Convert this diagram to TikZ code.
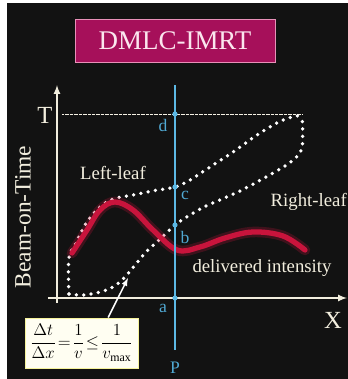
\documentclass[tikz,border=0pt]{standalone}
\usepackage{amsmath}
\usepackage{amssymb}
\usepackage{xcolor}
\usepackage{fontspec}
\setmainfont{Liberation Serif}
\usepackage{tikz}
\usetikzlibrary{calc}

\definecolor{bgdark}{RGB}{18,18,18}
\definecolor{axiscream}{RGB}{242,238,222}
\definecolor{pblue}{RGB}{92,184,228}
\definecolor{labblue}{RGB}{80,168,210}
\definecolor{intred}{RGB}{200,20,60}
\definecolor{titlefill}{RGB}{166,16,90}
\definecolor{titleedge}{RGB}{232,144,184}
\definecolor{titletext}{RGB}{251,230,238}

\tikzset{
	titlebox/.style={draw=titleedge, line width=0.8pt, fill=titlefill, text=titletext,
		minimum width=6cm, minimum height=1.29cm, font=\fontsize{23}{26}\selectfont},
	axisline/.style={axiscream, line width=1.6pt, -latex},
	pline/.style={pblue, line width=1.6pt},
	pdot/.style={fill=pblue},
	letter/.style={text=labblue, font=\fontsize{15}{17}\selectfont},
	tline/.style={axiscream!80, line width=0.6pt, dash pattern=on 0.5pt off 0.6pt},
	leaf/.style={white, line width=3.2pt, line cap=round, dash pattern=on 0pt off 6.3pt},
	caption/.style={text=axiscream, font=\fontsize{16}{18}\selectfont},
	formulabox/.style={draw=axiscream!70!yellow, line width=0.8pt, fill=white!95!yellow,
		minimum width=3.39cm, minimum height=1.5cm, inner sep=0pt},
	pointer/.style={white, line width=1.3pt, -latex}
}

\begin{document}
\begin{tikzpicture}[x=0.03cm, y=-0.03cm]
	% frame
	\useasboundingbox (0,0) rectangle (348,379);
	\fill[white] (0,0) rectangle (348,379);
	\fill[bgdark] (7,3) rectangle (348,379);

	% title
	\node[titlebox] (title) at (175,40.5) {DMLC-IMRT};

	% axes
	\coordinate (yfoot) at (57,303);
	\coordinate (ytop) at (57,85);
	\coordinate (xfoot) at (48,298);
	\coordinate (xtip) at (347,298);
	\draw[axisline] (yfoot) -- (ytop);
	\draw[axisline] (xfoot) -- (xtip);
	\node[text=axiscream, font=\fontsize{21}{24}\selectfont] (tlab) at (45,115) {T};
	\node[text=axiscream, font=\fontsize{21}{24}\selectfont] (xlab) at (333,320) {X};
	\node[text=axiscream, font=\fontsize{20}{22}\selectfont, rotate=90] (ylab) at (23,217) {Beam-on-Time};

	% points on P
	\foreach \n/\y in {a/298, b/225, c/187, d/114}{
		\coordinate (\n) at (175,\y);
	}
	\coordinate (tstart) at (62,114);
	\coordinate (tend) at (302,114);
	\draw[tline] (tstart) -- (tend);

	% leaf positions
	\draw[leaf] plot[smooth, tension=0.6] coordinates {(69,294) (69,258) (76,243) (87,222) (100,207) (113,199) (133,195) (152,191) (c) (190,180) (207,169) (233,152) (260,133) (283,120) (302,115)};
	\draw[leaf] plot[smooth, tension=0.6] coordinates {(69,294) (83,295) (100,292) (113,287) (124,278) (135,265) (147,251) (158,241) (b) (190,215) (204,207) (222,199) (242,190) (273,173) (292,161) (302,147) (302,115)};

	% delivered intensity
	\draw[intred, line width=9pt, opacity=0.25, line cap=round] plot[smooth, tension=0.6] coordinates {(72,253) (87,230) (100,210) (115,202) (133,210) (153,230) (177,250) (200,247) (225,238) (253,232) (283,236) (305,250)};
	\draw[intred, line width=4.5pt, line cap=round] plot[smooth, tension=0.6] coordinates {(72,253) (87,230) (100,210) (115,202) (133,210) (153,230) (177,250) (200,247) (225,238) (253,232) (283,236) (305,250)};

	% line P
	\coordinate (ptop) at (175,85);
	\coordinate (pbot) at (175,350);
	\draw[pline] (ptop) -- (pbot);
	\foreach \n in {a,b,c,d}{
		\fill[pdot] (\n) circle (2.2pt);
	}
	\node[letter] (dlab) at (163,125) {d};
	\node[letter] (clab) at (185,195) {c};
	\node[letter] (blab) at (185,237) {b};
	\node[letter] (alab) at (163,308) {a};
	\node[letter] (plab) at (175,368) {P};

	% labels
	\node[caption] (left) at (113,173) {Left-leaf};
	\node[caption, anchor=west, inner sep=0pt] (right) at (270.5,202) {Right-leaf};
	\node[caption] (deliv) at (262,268) {delivered intensity};

	% speed limit
	\node[formulabox] (formula) at (81.5,343) {\fontsize{14.5}{17}\selectfont $\displaystyle\frac{\Delta t}{\Delta x}\!=\!\frac{1}{v}\!\leq\!\frac{1}{v_{\max}}$};
	\coordinate (tip) at (128,278);
	\draw[pointer] ([xshift=0.8cm]formula.north) -- (tip);
\end{tikzpicture}
\end{document}
